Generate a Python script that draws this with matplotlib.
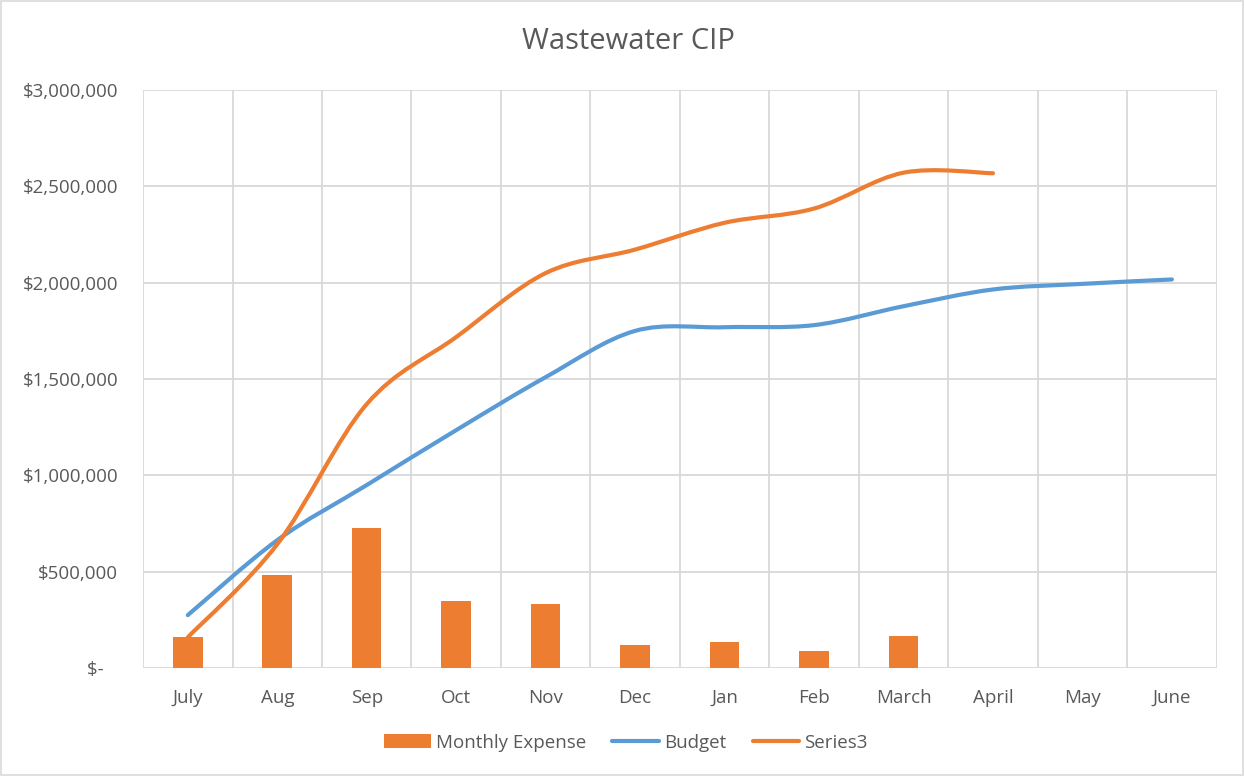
import matplotlib
matplotlib.use("Agg")
import matplotlib.pyplot as plt
from matplotlib.path import Path
from matplotlib.patches import PathPatch, Rectangle, Patch
from matplotlib.lines import Line2D
import numpy as np

plt.rcParams['font.family'] = ['Open Sans', 'DejaVu Sans']

months = ["July", "Aug", "Sep", "Oct", "Nov", "Dec", "Jan", "Feb", "March", "April", "May", "June"]
monthly_expense = [160000, 483000, 727000, 348000, 332000, 119000, 135000, 88000, 166000]
budget = [275000, 664000, 950000, 1235000, 1510000, 1750000, 1769000, 1780000, 1878000, 1965000, 1994000, 2017000]
series3 = [160000, 643000, 1370000, 1718000, 2050000, 2172000, 2311000, 2385000, 2571000, 2568000]
y_ticks = [0, 500000, 1000000, 1500000, 2000000, 2500000, 3000000]
y_tick_labels = ["$-   ", "$500,000", "$1,000,000", "$1,500,000", "$2,000,000", "$2,500,000", "$3,000,000"]

ORANGE = "#ED7D31"
BLUE = "#5B9BD5"
GRID = "#D9D9D9"
TEXT = "#595959"

fig = plt.figure(figsize=(12.44, 7.76), dpi=100)
fig.patches.append(Rectangle((0.0008, 0.0013), 0.9984, 0.9974, transform=fig.transFigure,
                             fill=False, edgecolor=GRID, linewidth=1.2))
ax = fig.add_axes([0.115, 0.139, 0.863, 0.745])

x_exp = np.arange(len(monthly_expense))
ax.bar(x_exp, monthly_expense, width=0.33, color=ORANGE, zorder=2)


def smooth_path(xs, ys):
    pts = np.column_stack([xs, ys]).astype(float)
    n = len(pts)
    verts = [pts[0]]
    codes = [Path.MOVETO]
    for i in range(n - 1):
        p_prev = pts[i - 1] if i > 0 else pts[i]
        p0 = pts[i]
        p1 = pts[i + 1]
        p_next = pts[i + 2] if i + 2 < n else pts[i + 1]
        c1 = p0 + (p1 - p_prev) / 6.0
        c2 = p1 - (p_next - p0) / 6.0
        verts += [c1, c2, p1]
        codes += [Path.CURVE4] * 3
    return Path(verts, codes)


for vals, col in [(budget, BLUE), (series3, ORANGE)]:
    p = smooth_path(np.arange(len(vals)), vals)
    ax.add_patch(PathPatch(p, facecolor="none", edgecolor=col, linewidth=3,
                           capstyle="round", joinstyle="round", zorder=3))

ax.set_xlim(-0.5, len(months) - 0.5)
ax.set_ylim(0, 3000000)
ax.set_xticks(np.arange(len(months)))
ax.set_xticklabels(months)
ax.set_yticks(y_ticks)
ax.set_yticklabels(y_tick_labels)
ax.tick_params(axis="both", length=0, colors=TEXT, labelsize=13.5)
ax.tick_params(axis="x", pad=15)
ax.tick_params(axis="y", pad=18)

for yv in y_ticks:
    ax.axhline(yv, color=GRID, linewidth=1.3, zorder=1)
for xv in np.arange(-0.5, len(months), 1.0):
    ax.axvline(xv, color=GRID, linewidth=1.3, zorder=1)
for s in ax.spines.values():
    s.set_visible(False)

fig.text(0.505, 0.946, "Wastewater CIP", fontsize=21, color=TEXT, ha="center", va="center")

handles = [Patch(facecolor=ORANGE, edgecolor="none"),
           Line2D([0], [0], color=BLUE, linewidth=3, solid_capstyle="round"),
           Line2D([0], [0], color=ORANGE, linewidth=3, solid_capstyle="round")]
leg = fig.legend(handles, ["Monthly Expense", "Budget", "Series3"], loc="center",
                 bbox_to_anchor=(0.503, 0.043), ncol=3, frameon=False, fontsize=13.5,
                 labelcolor=TEXT, handlelength=2.5, handleheight=0.8, handletextpad=0.27,
                 columnspacing=1.4)

fig.savefig("out.png", dpi=100, facecolor="white")
